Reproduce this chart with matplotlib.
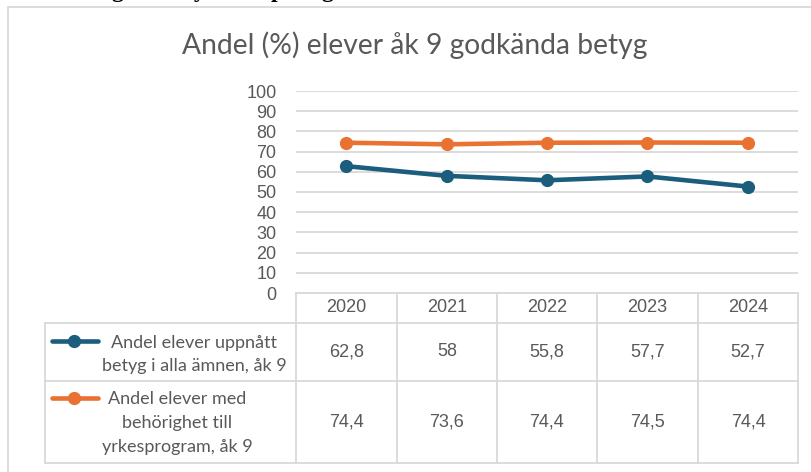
import matplotlib
matplotlib.use("Agg")
import matplotlib.pyplot as plt
from matplotlib.lines import Line2D
from matplotlib.patches import Rectangle

# ---------------- data ----------------
years = ["2020", "2021", "2022", "2023", "2024"]
series_names = [
    "Andel elever uppnått\nbetyg i alla ämnen, åk 9",
    "Andel elever med\nbehörighet till\nyrkesprogram, åk 9",
]
uppnatt = [62.8, 58, 55.8, 57.7, 52.7]
behorighet = [74.4, 73.6, 74.4, 74.5, 74.4]
series_values = [uppnatt, behorighet]
title = "Andel (%) elever åk 9 godkända betyg"
yticks = list(range(0, 101, 10))

colors = ["#1b5d7d", "#e97132"]
grey_text = "#595959"
grid_col = "#d9d9d9"
num_font = "Liberation Sans"
txt_font = "Lato"

W, H = 811, 472
fig = plt.figure(figsize=(W / 100, H / 100), dpi=100)

def fx(px):
    return px / W

def fy(py):
    return 1 - py / H

# outer chart border (extends past right/bottom edges)
fig.add_artist(Rectangle((fx(8), fy(480)), fx(820) - fx(8), fy(7) - fy(480),
                         transform=fig.transFigure, fill=False,
                         edgecolor=grid_col, linewidth=1.3))

# heading above the chart, mostly cut off by the picture's top edge
for ch, px in zip(["g", "y", "p", "g"], [117, 200, 277, 327]):
    fig.text(fx(px), fy(-2.5), ch, ha="center", va="baseline",
             family="Liberation Serif", fontweight="bold", fontsize=17,
             color="black")

# title
fig.text(fx(415), fy(45), title, ha="center", va="center",
         family=txt_font, fontsize=20.3, color=grey_text)

# plot axes
left, right, top, bottom = 296, 798, 91, 293
ax = fig.add_axes([fx(left), fy(bottom), fx(right) - fx(left), fy(top) - fy(bottom)])
x = list(range(len(years)))
for vals, c in zip(series_values, colors):
    ax.plot(x, vals, color=c, linewidth=3.3, marker="o", markersize=8.5,
            solid_capstyle="round", zorder=3)
ax.set_xlim(-0.5, len(years) - 0.5)
ax.set_ylim(0, 100)
ax.set_yticks(yticks)
ax.set_xticks([])
ax.grid(axis="y", color=grid_col, linewidth=1.3)
for s in ax.spines.values():
    s.set_visible(False)
ax.tick_params(axis="y", length=0, pad=14, labelsize=13, labelcolor=grey_text)
for lab in ax.get_yticklabels():
    lab.set_family(num_font)
ax.set_axisbelow(True)

# ---------------- data table ----------------
col_edges = [296, 397, 497, 597, 698, 798]
row_edges = [293, 323, 381, 463]
tbl_left = 45
lw = 1.3

def hline(y, x0, x1):
    fig.add_artist(Line2D([fx(x0), fx(x1)], [fy(y), fy(y)], transform=fig.transFigure,
                          color=grid_col, linewidth=lw))

def vline(xp, y0, y1):
    fig.add_artist(Line2D([fx(xp), fx(xp)], [fy(y0), fy(y1)], transform=fig.transFigure,
                          color=grid_col, linewidth=lw))

hline(row_edges[0], col_edges[0], col_edges[-1])
for ry in row_edges[1:]:
    hline(ry, tbl_left, col_edges[-1])
for cx in col_edges:
    vline(cx, row_edges[0], row_edges[-1])
vline(tbl_left, row_edges[1], row_edges[-1])

# header (years)
for i, yr in enumerate(years):
    cx = (col_edges[i] + col_edges[i + 1]) / 2
    fig.text(fx(cx), fy((row_edges[0] + row_edges[1]) / 2), yr, ha="center", va="center",
             family=num_font, fontsize=13, color=grey_text)

# rows
key_y = [341, 398]
label_center_y = [354.5, 423]
for r, (name, vals, c) in enumerate(zip(series_names, series_values, colors)):
    ymid = (row_edges[r + 1] + row_edges[r + 2]) / 2
    for i, v in enumerate(vals):
        cx = (col_edges[i] + col_edges[i + 1]) / 2
        s = f"{v:g}".replace(".", ",")
        fig.text(fx(cx), fy(ymid), s, ha="center", va="center",
                 family=num_font, fontsize=13, color=grey_text)
    # legend key
    fig.add_artist(Line2D([fx(52), fx(98)], [fy(key_y[r]), fy(key_y[r])],
                          transform=fig.transFigure, color=c, linewidth=3.3,
                          solid_capstyle="round"))
    fig.add_artist(Line2D([fx(74)], [fy(key_y[r])], transform=fig.transFigure,
                          color=c, marker="o", markersize=8.5, linestyle="none"))
    fig.text(fx(102), fy(label_center_y[r]), name, ha="left", va="center",
             multialignment="center", family=txt_font, fontsize=13,
             color=grey_text, linespacing=1.6)

fig.savefig("out.png", dpi=100)
